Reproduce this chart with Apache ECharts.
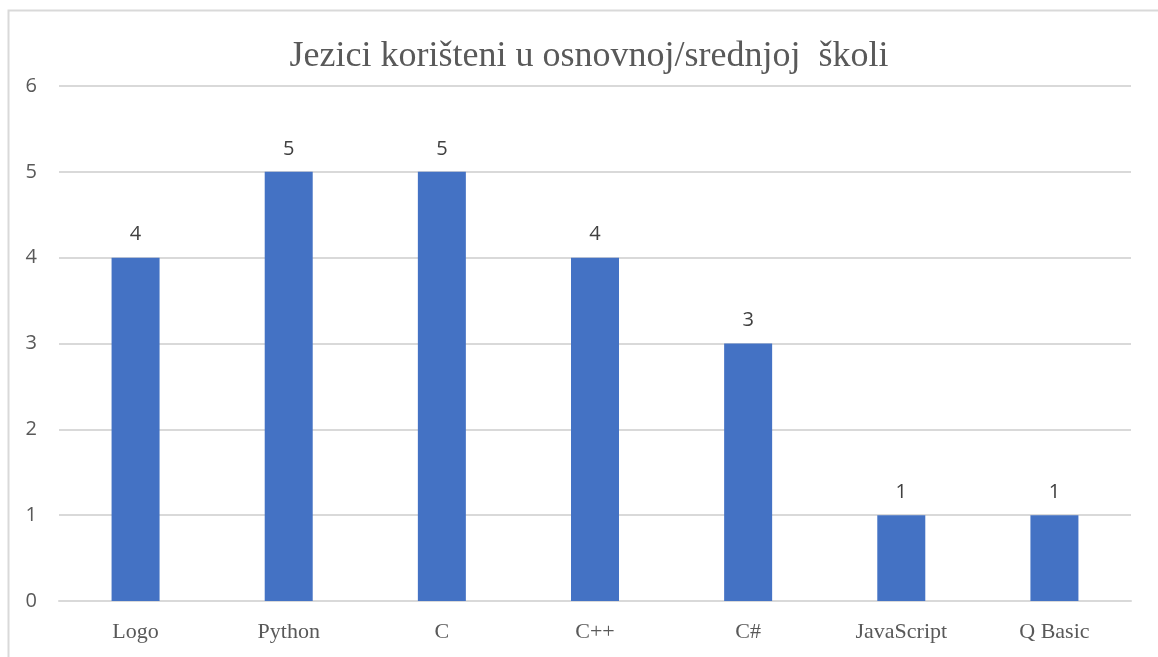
<!DOCTYPE html>
<html>
<head>
<meta charset="utf-8">
<script src="https://cdn.jsdelivr.net/npm/echarts@6/dist/echarts.min.js"></script>
<style>html,body{margin:0;padding:0;background:#fff;}#c{width:1158px;height:657px;}</style>
</head>
<body>
<div id="c"></div>
<script>
const titleText = 'Jezici korišteni u osnovnoj/srednjoj  školi';
const categories = ['Logo', 'Python', 'C', 'C++', 'C#', 'JavaScript', 'Q Basic'];
const values = [4, 5, 5, 4, 3, 1, 1];
const yTicks = [0, 1, 2, 3, 4, 5, 6];

const chart = echarts.init(document.getElementById('c'));
chart.setOption({
  animation: false,
  backgroundColor: '#fff',
  graphic: [{
    type: 'rect', left: 6, top: 8,
    shape: { width: 1170, height: 680 },
    style: { fill: 'none', stroke: '#d9d9d9', lineWidth: 2 },
    silent: true
  }],
  title: {
    text: titleText,
    left: 584, top: 34, textAlign: 'center',
    textStyle: { fontFamily: 'Liberation Serif', fontSize: 36, fontWeight: 'normal', color: '#595959' }
  },
  grid: { left: 59, right: 27, top: 86, bottom: 56, containLabel: false },
  xAxis: {
    type: 'category', data: categories,
    axisLine: { lineStyle: { color: '#d9d9d9', width: 2 } },
    axisTick: { show: false },
    axisLabel: { fontFamily: 'Liberation Serif', fontSize: 22, color: '#595959', margin: 20 }
  },
  yAxis: {
    type: 'value', min: yTicks[0], max: yTicks[yTicks.length - 1], interval: 1,
    axisLine: { show: false }, axisTick: { show: false },
    splitLine: { lineStyle: { color: '#d9d9d9', width: 2 } },
    axisLabel: { fontFamily: 'Open Sans', fontSize: 20, color: '#595959', margin: 22 }
  },
  series: [{
    type: 'bar', data: values, barWidth: 48,
    itemStyle: { color: '#4472C4' },
    label: { show: true, position: 'top', distance: 13, fontFamily: 'Open Sans', fontSize: 20, color: '#404040' }
  }]
});
</script>
</body>
</html>
